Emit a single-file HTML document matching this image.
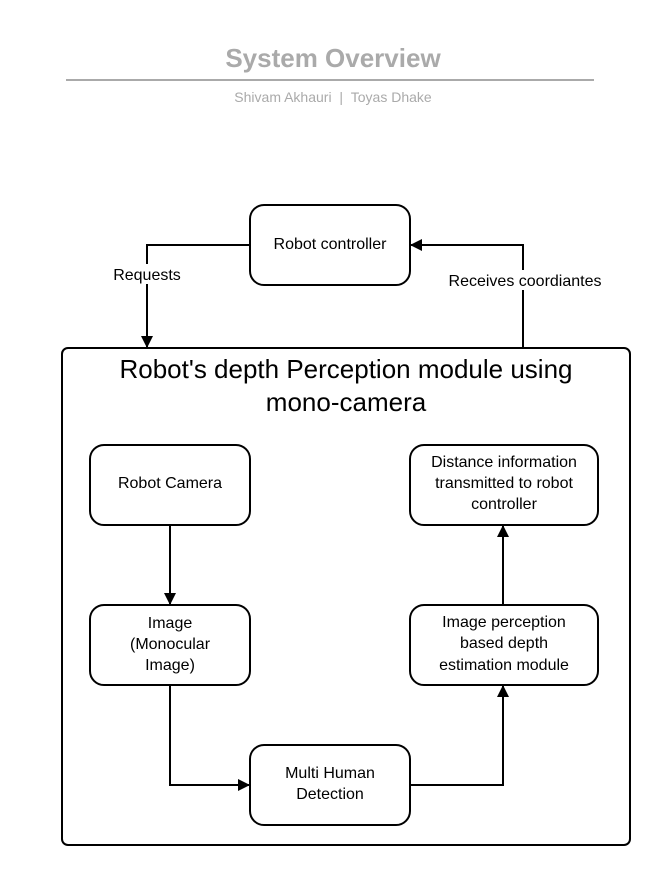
<!DOCTYPE html>
<html><head><style>body{margin:0;background:#fff}</style></head><body>
<svg width="671" height="885" xmlns="http://www.w3.org/2000/svg" font-family="Liberation Sans, sans-serif">
<defs><marker id="a" markerWidth="12" markerHeight="12" refX="11" refY="6" orient="auto" markerUnits="userSpaceOnUse"><path d="M0,0 L12,6 L0,12 z" fill="#000"/></marker></defs>
<text x="333" y="67" text-anchor="middle" font-size="26" font-weight="bold" fill="#aaa">System Overview</text>
<line x1="66" y1="80" x2="594" y2="80" stroke="#aaa" stroke-width="2"/>
<text x="333" y="102" text-anchor="middle" font-size="14" fill="#aaa">Shivam Akhauri&#160;&#160;|&#160;&#160;Toyas Dhake</text>
<g fill="none" stroke="#000" stroke-width="2">
<rect x="62" y="348" width="568" height="497" rx="6"/>
<rect x="250" y="205" width="160" height="80" rx="14"/>
<rect x="90" y="445" width="160" height="80" rx="14"/>
<rect x="90" y="605" width="160" height="80" rx="14"/>
<rect x="250" y="745" width="160" height="80" rx="14"/>
<rect x="410" y="445" width="188" height="80" rx="14"/>
<rect x="410" y="605" width="188" height="80" rx="14"/>
<path d="M250,245 H147 V347" marker-end="url(#a)"/>
<path d="M523,348 V245 H411" marker-end="url(#a)"/>
<path d="M170,525 V604" marker-end="url(#a)"/>
<path d="M170,685 V785 H249" marker-end="url(#a)"/>
<path d="M410,785 H503 V686" marker-end="url(#a)"/>
<path d="M503,605 V526" marker-end="url(#a)"/>
</g>
<rect x="100" y="264" width="95" height="20" fill="#fff"/>
<rect x="432" y="270" width="185" height="20" fill="#fff"/>
<g font-size="16" text-anchor="middle" fill="#000">
<text x="147" y="280">Requests</text>
<text x="525" y="286">Receives coordiantes</text>
<text x="330" y="249">Robot controller</text>
<text x="170" y="488">Robot Camera</text>
<text x="170" y="628">Image</text>
<text x="170" y="649">(Monocular</text>
<text x="170" y="670">Image)</text>
<text x="330" y="778">Multi Human</text>
<text x="330" y="799">Detection</text>
<text x="504" y="467">Distance information</text>
<text x="504" y="488">transmitted to robot</text>
<text x="504" y="509">controller</text>
<text x="504" y="627">Image perception</text>
<text x="504" y="648">based depth</text>
<text x="504" y="670">estimation module</text>
</g>
<g font-size="26" text-anchor="middle" fill="#000">
<text x="346" y="378">Robot's depth Perception module using</text>
<text x="346" y="411">mono-camera</text>
</g>
</svg>
</body></html>
